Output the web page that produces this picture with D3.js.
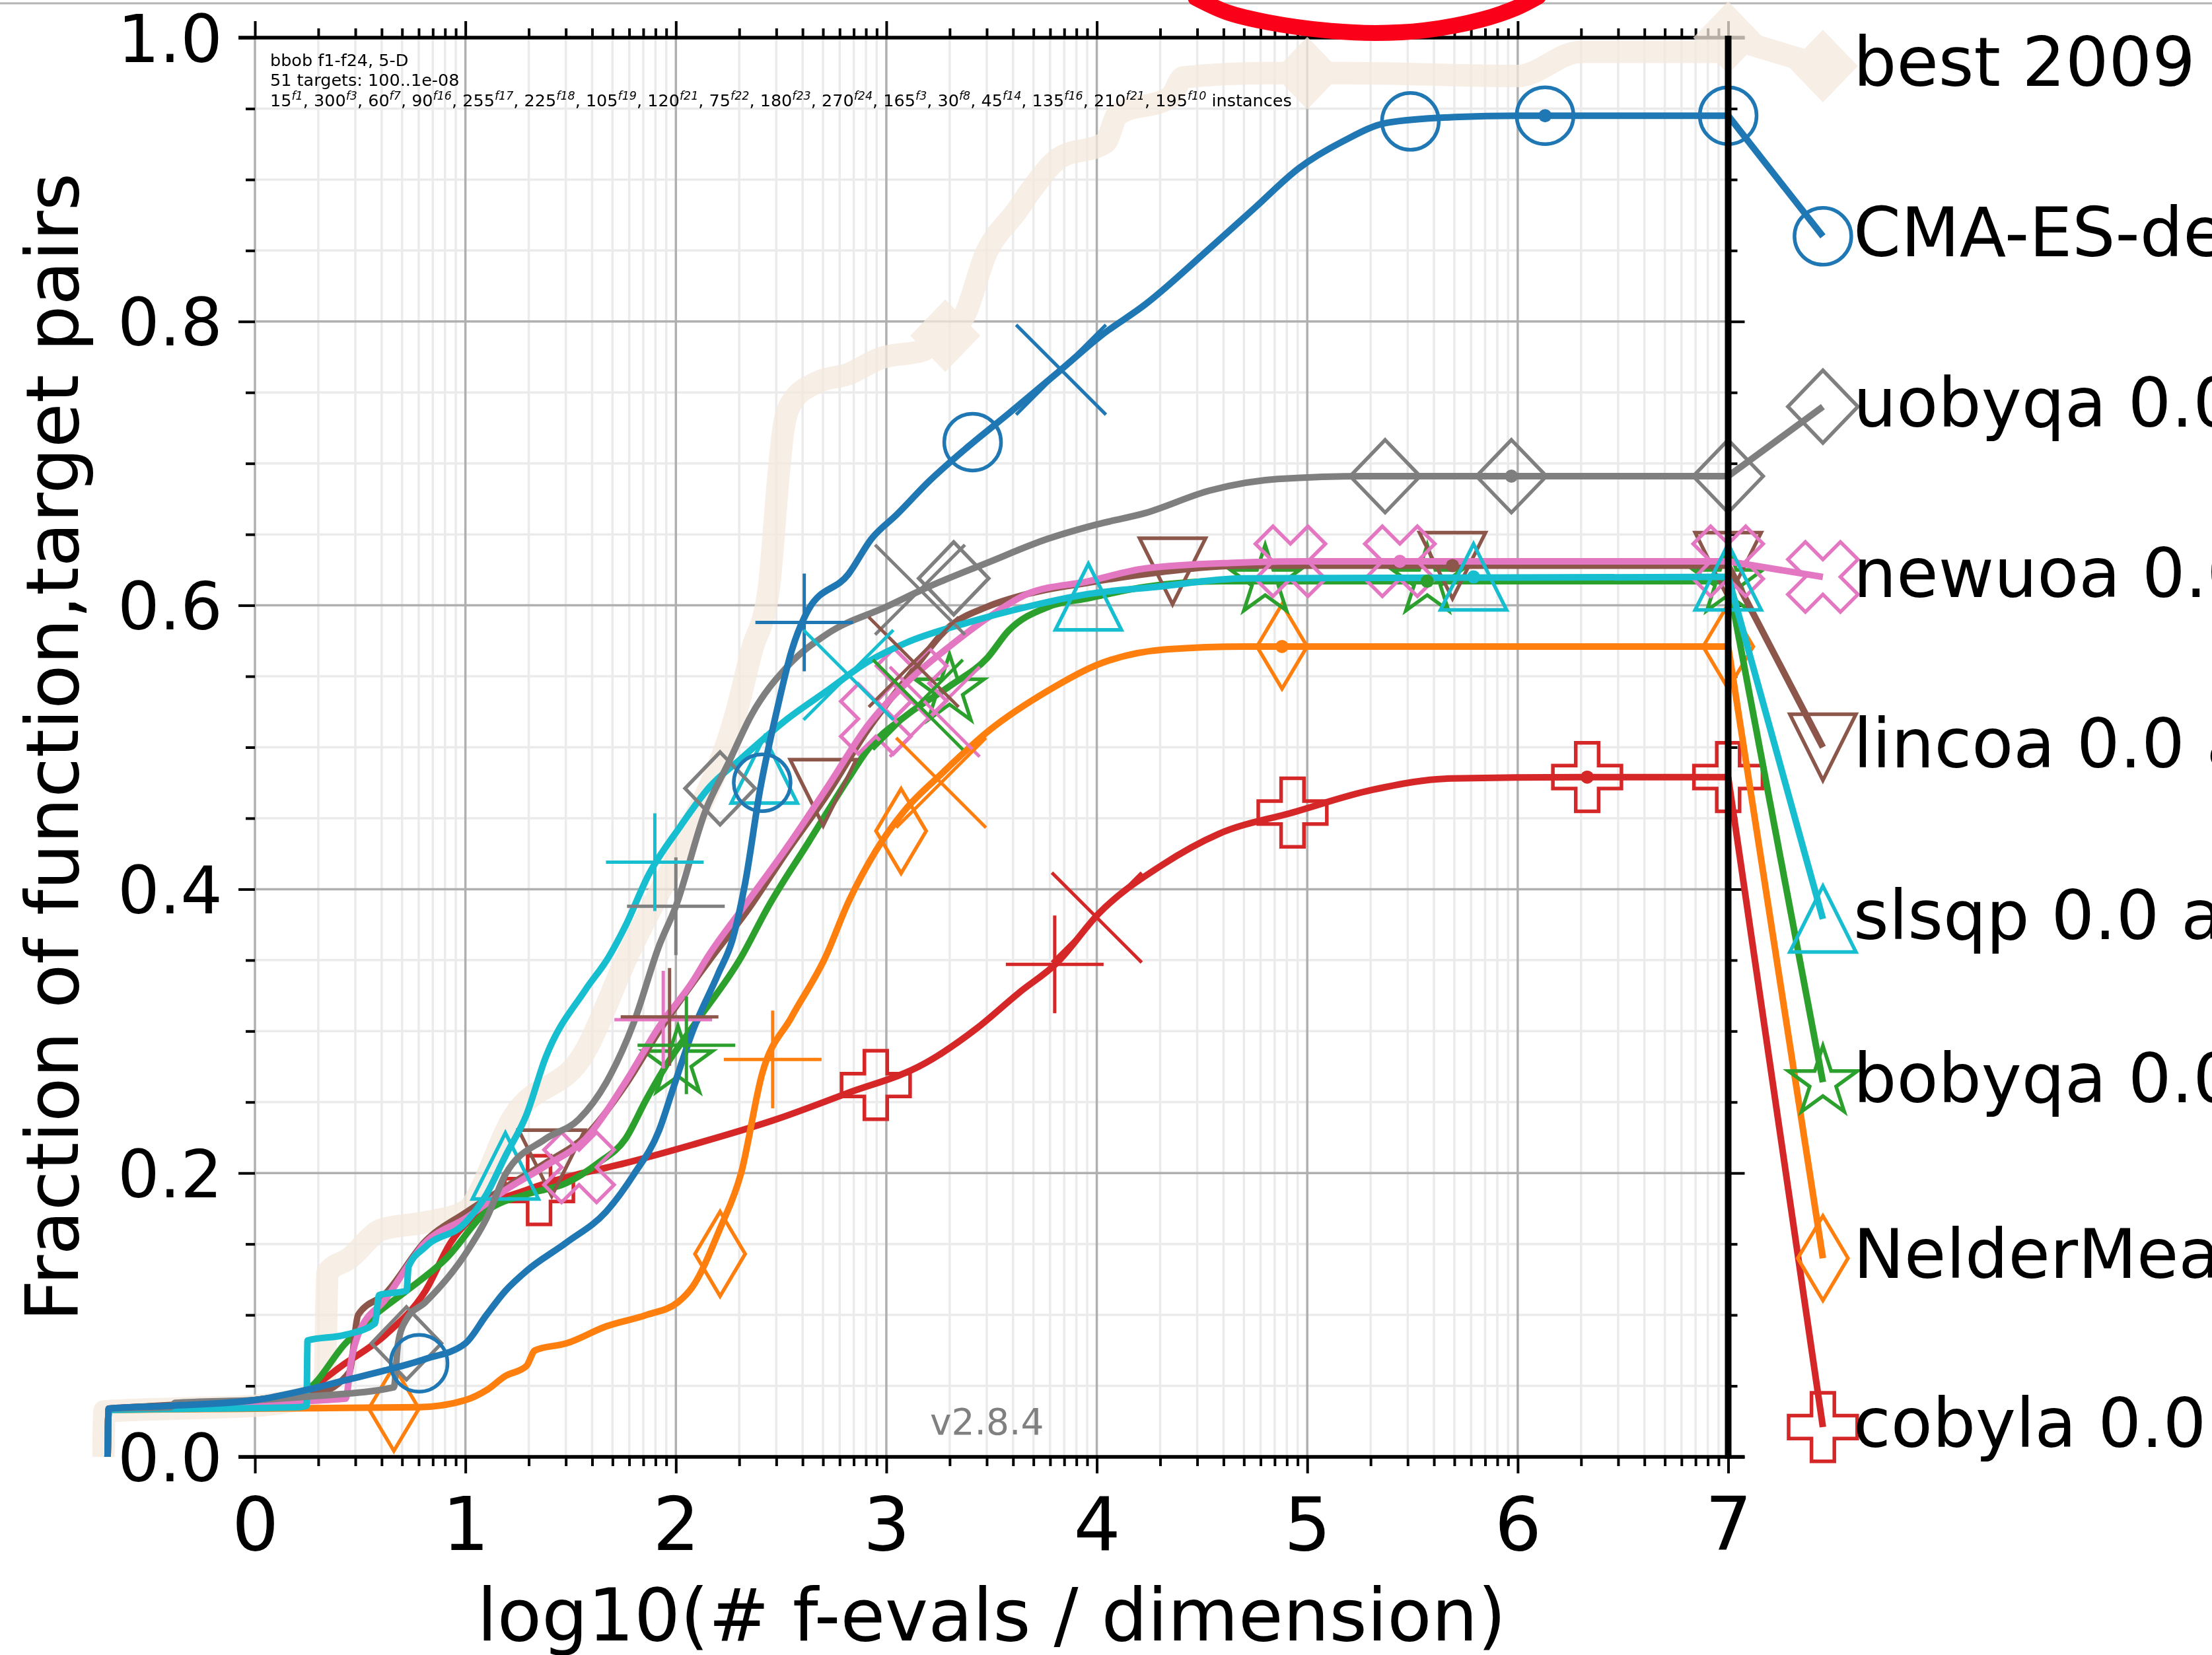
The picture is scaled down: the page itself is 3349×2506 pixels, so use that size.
<!DOCTYPE html>
<html>
<head>
<meta charset="utf-8">
<script src="https://cdn.jsdelivr.net/npm/d3@7"></script>
<style>
body { margin: 0; background: #fff; }
svg { display: block; }
</style>
</head>
<body>
<div id="chartContainer"></div>
<script>

// axis ticks
var xMajorTicks = [0, 1, 2, 3, 4, 5, 6, 7];
var xTickLabels = ["0", "1", "2", "3", "4", "5", "6", "7"];
var yMajorTicks = [0, 0.2, 0.4, 0.6, 0.8, 1.0];
var yTickLabels = ["0.0", "0.2", "0.4", "0.6", "0.8", "1.0"];

// legend, top to bottom
var algoNames = ["best 2009", "CMA-ES-default", "uobyqa 0.0 adjusted", "newuoa 0.0 adjusted",
  "lincoa 0.0 adjusted", "slsqp 0.0 adjusted", "bobyqa 0.0 adjusted",
  "NelderMead 0.0 adjusted", "cobyla 0.0 adjusted"];
var legendLevels = [0.98, 0.86, 0.74, 0.62, 0.50, 0.379, 0.264, 0.14, 0.021];

// ECDF curves: [log10(#f-evals/dim), fraction]
var best2009 = [[-0.72, 0], [-0.715, 0.032], [-0.38, 0.034], [0.0, 0.036], [0.24, 0.042], [0.33, 0.047],
  [0.345, 0.13], [0.45, 0.14], [0.6, 0.16], [0.8, 0.165], [1.0, 0.173], [1.23, 0.24], [1.57, 0.286],
  [1.77, 0.353], [2.06, 0.44], [2.29, 0.526], [2.36, 0.568], [2.44, 0.61], [2.49, 0.695], [2.51, 0.723],
  [2.55, 0.743], [2.67, 0.757], [2.82, 0.763], [2.97, 0.774], [3.18, 0.78], [3.24, 0.794], [3.35, 0.80],
  [3.48, 0.85], [3.62, 0.878], [3.69, 0.893], [3.82, 0.915], [4.04, 0.926], [4.10, 0.946], [4.35, 0.958],
  [4.41, 0.972], [4.79, 0.975], [5.2, 0.975], [6.0, 0.973], [6.3, 0.99], [6.97, 0.99], [7.0, 1.0]];
var cmaes = [[-0.70, 0], [-0.695, 0.034], [-0.4, 0.036], [0.0, 0.040], [0.24, 0.047], [0.43, 0.054],
  [0.62, 0.061], [0.81, 0.069], [1.0, 0.080], [1.10, 0.100], [1.19, 0.117], [1.29, 0.131], [1.48, 0.151],
  [1.67, 0.173], [1.80, 0.199], [1.92, 0.230], [1.99, 0.261], [2.08, 0.300], [2.20, 0.340], [2.27, 0.365],
  [2.33, 0.405], [2.40, 0.470], [2.48, 0.526], [2.55, 0.568], [2.63, 0.597], [2.82, 0.622], [2.93, 0.647],
  [3.05, 0.664], [3.20, 0.687], [3.39, 0.712], [3.58, 0.735], [3.83, 0.766], [4.02, 0.790], [4.23, 0.812],
  [4.54, 0.852], [4.75, 0.880], [4.96, 0.908], [5.17, 0.927], [5.38, 0.940], [5.70, 0.944], [6.0, 0.945], [7.0, 0.945]];
var uobyqa = [[-0.70, 0], [-0.695, 0.034], [-0.40, 0.035], [-0.38, 0.038], [0.0, 0.040], [0.3, 0.043],
  [0.66, 0.049], [0.68, 0.08], [0.72, 0.097], [0.81, 0.109], [1.0, 0.143], [1.10, 0.168], [1.19, 0.199],
  [1.38, 0.224], [1.54, 0.238], [1.67, 0.264], [1.80, 0.306], [1.92, 0.36], [2.0, 0.388], [2.14, 0.455],
  [2.25, 0.489], [2.36, 0.523], [2.53, 0.557], [2.72, 0.58], [3.0, 0.599], [3.2, 0.613], [3.48, 0.630],
  [3.77, 0.647], [4.0, 0.657], [4.23, 0.665], [4.54, 0.681], [4.86, 0.689], [5.28, 0.691], [7.0, 0.691]];
var newuoa = [[-0.70, 0], [-0.695, 0.033], [0.0, 0.038], [0.43, 0.041], [0.46, 0.07], [0.49, 0.086],
  [0.62, 0.111], [0.81, 0.151], [1.0, 0.168], [1.19, 0.188], [1.38, 0.205], [1.57, 0.224], [1.76, 0.264],
  [1.92, 0.303], [2.08, 0.335], [2.15, 0.352], [2.34, 0.391], [2.53, 0.430], [2.72, 0.472], [2.91, 0.515],
  [3.10, 0.546], [3.30, 0.571], [3.48, 0.591], [3.67, 0.608], [3.96, 0.617], [4.23, 0.626], [4.65, 0.630],
  [5.0, 0.631], [7.0, 0.631]];
var lincoa = [[-0.70, 0], [-0.695, 0.033], [0.0, 0.040], [0.3, 0.045], [0.45, 0.06], [0.49, 0.10],
  [0.62, 0.115], [0.81, 0.152], [1.0, 0.172], [1.19, 0.190], [1.38, 0.207], [1.57, 0.226], [1.76, 0.262],
  [1.92, 0.300], [2.17, 0.352], [2.34, 0.385], [2.53, 0.427], [2.72, 0.467], [2.91, 0.512], [3.10, 0.549],
  [3.30, 0.585], [3.48, 0.599], [3.67, 0.608], [3.96, 0.616], [4.28, 0.623], [4.7, 0.628], [7.0, 0.628]];
var slsqp = [[-0.70, 0], [-0.695, 0.033], [0.21, 0.035], [0.245, 0.036], [0.25, 0.082], [0.43, 0.086],
  [0.57, 0.094], [0.59, 0.114], [0.72, 0.117], [0.73, 0.134], [0.81, 0.148], [1.0, 0.165], [1.10, 0.185],
  [1.19, 0.212], [1.29, 0.241], [1.38, 0.281], [1.57, 0.329], [1.68, 0.352], [1.76, 0.374], [1.87, 0.410],
  [2.02, 0.444], [2.16, 0.472], [2.31, 0.492], [2.53, 0.520], [2.72, 0.540], [2.91, 0.560], [3.10, 0.574],
  [3.39, 0.588], [3.67, 0.599], [3.96, 0.608], [4.28, 0.613], [4.7, 0.619], [7.0, 0.620]];
var bobyqa = [[-0.70, 0], [-0.695, 0.033], [0.0, 0.040], [0.24, 0.047], [0.43, 0.08], [0.57, 0.100],
  [0.72, 0.117], [0.91, 0.140], [1.10, 0.173], [1.29, 0.185], [1.48, 0.193], [1.63, 0.207], [1.76, 0.224],
  [1.86, 0.252], [1.95, 0.275], [2.08, 0.303], [2.31, 0.352], [2.44, 0.388], [2.63, 0.433], [2.82, 0.478],
  [2.91, 0.498], [3.10, 0.523], [3.30, 0.543], [3.48, 0.563], [3.58, 0.582], [3.77, 0.599], [3.96, 0.605],
  [4.23, 0.613], [4.6, 0.617], [7.0, 0.617]];
var neldermead = [[-0.70, 0], [-0.695, 0.033], [0.0, 0.034], [0.78, 0.035], [1.0, 0.040], [1.10, 0.047],
  [1.19, 0.057], [1.29, 0.064], [1.33, 0.075], [1.48, 0.080], [1.67, 0.092], [1.86, 0.100], [2.01, 0.109],
  [2.08, 0.120], [2.21, 0.161], [2.31, 0.20], [2.41, 0.27], [2.55, 0.31], [2.71, 0.352], [2.82, 0.391],
  [2.95, 0.427], [3.09, 0.456], [3.26, 0.481], [3.49, 0.512], [3.77, 0.540], [4.0, 0.558], [4.33, 0.569],
  [4.7, 0.571], [7.0, 0.571]];
var cobyla = [[-0.70, 0], [-0.695, 0.034], [-0.4, 0.036], [0.0, 0.040], [0.24, 0.047], [0.43, 0.066],
  [0.62, 0.086], [0.81, 0.117], [0.93, 0.151], [1.10, 0.176], [1.29, 0.188], [1.48, 0.197], [1.76, 0.207],
  [2.08, 0.220], [2.48, 0.238], [2.81, 0.256], [3.18, 0.277], [3.43, 0.302], [3.63, 0.327], [3.81, 0.348],
  [4.01, 0.383], [4.31, 0.417], [4.58, 0.439], [4.93, 0.454], [5.31, 0.470], [5.68, 0.478], [6.3, 0.479],
  [7.0, 0.479]];

// marker positions along each curve
var best2009Marks = [[3.28, 0.79], [5.0, 0.975], [7.0, 1.0]];
var cmaesMarks = [[0.78, 0.066], [2.41, 0.475], [3.41, 0.715], [5.49, 0.941], [6.13, 0.945], [7.0, 0.945]];
var uobyqaMarks = [[0.72, 0.08], [2.21, 0.471], [3.32, 0.619], [5.37, 0.691], [5.97, 0.691], [7.0, 0.691]];
var newuoaMarks = [[1.54, 0.204], [2.95, 0.52], [3.12, 0.545], [4.92, 0.631], [5.44, 0.631], [7.0, 0.631]];
var lincoaMarks = [[1.41, 0.207], [2.70, 0.468], [4.36, 0.624], [5.69, 0.628], [7.0, 0.628]];
var slsqpMarks = [[1.19, 0.205], [2.42, 0.484], [3.96, 0.606], [5.79, 0.620], [7.0, 0.620]];
var bobyqaMarks = [[2.01, 0.278], [3.30, 0.540], [4.80, 0.617], [5.57, 0.617], [7.0, 0.617]];
var neldermeadMarks = [[0.66, 0.034], [2.21, 0.143], [3.07, 0.441], [4.88, 0.571], [7.0, 0.571]];
var cobylaMarks = [[1.35, 0.188], [2.95, 0.262], [4.93, 0.454], [6.33, 0.479], [7.0, 0.479]];

// small dots, "+" and "x" budget marks
var dotMarks = [[6.13, 0.945], [5.97, 0.691], [5.44, 0.631], [5.69, 0.628], [5.79, 0.620], [5.57, 0.617], [4.88, 0.571], [6.33, 0.479]];
var plusMarks = [[2.61, 0.588], [2.0, 0.388], [1.94, 0.308], [1.97, 0.31], [1.90, 0.419], [2.05, 0.29], [2.46, 0.28], [3.80, 0.347]];
var crossMarks = [[3.83, 0.766], [3.16, 0.611], [3.23, 0.525], [3.13, 0.56], [2.82, 0.551], [3.15, 0.53], [3.26, 0.475], [4.0, 0.380]];

// annotation text
var instCounts = [15, 300, 60, 90, 255, 225, 105, 120, 75, 180, 270, 165, 30, 45, 135, 210, 195];
var instFuncs = ["f1", "f3", "f7", "f16", "f17", "f18", "f19", "f21", "f22", "f23", "f24", "f3", "f8", "f14", "f16", "f21", "f10"];

// hand drawn red arc above the plot, in data coordinates
var redScribble = [[4.47, 1.028], [4.617, 1.018], [4.818, 1.0107], [5.088, 1.0051], [5.323, 1.0033],
  [5.555, 1.0051], [5.825, 1.0126], [5.991, 1.0209], [6.098, 1.029]];

var colors = ["#f5e8dc", "#1f77b4", "#7f7f7f", "#e377c2", "#8c564b", "#17becf", "#2ca02c", "#ff7f0e", "#d62728"];
var symbols = ["D", "o", "D", "X", "v", "^", "*", "d", "P"];
var curves = [best2009, cmaes, uobyqa, newuoa, lincoa, slsqp, bobyqa, neldermead, cobyla];
var marks = [best2009Marks, cmaesMarks, uobyqaMarks, newuoaMarks, lincoaMarks, slsqpMarks, bobyqaMarks, neldermeadMarks, cobylaMarks];
// color index of each dot / plus / cross
var dotColor = [1, 2, 3, 4, 5, 6, 7, 8];
var plusColor = [1, 2, 3, 4, 5, 6, 7, 8];
var crossColor = [1, 2, 3, 4, 5, 6, 7, 8];

var W = 3349, H = 2506;
var svg = d3.select("#chartContainer").append("svg")
  .attr("width", W).attr("height", H)
  .style("font-family", "'DejaVu Sans', sans-serif");

var x = d3.scaleLinear().domain([0, 7]).range([386, 2616.5]);
var y = d3.scaleLinear().domain([0, 1]).range([2206, 57]);

// grey rule at very top of the screenshot
svg.append("line").attr("x1", 0).attr("x2", W).attr("y1", 5).attr("y2", 5)
  .style("stroke", "#b4b4b4").style("stroke-width", 3);

var xMinor = [];
d3.range(0, 7).forEach(function (k) {
  d3.range(2, 10).forEach(function (m) { xMinor.push(k + Math.log10(m)); });
});
var yMinor = d3.range(1, 20).map(function (i) { return i * 0.05; })
  .filter(function (v) { return Math.abs(v * 5 - Math.round(v * 5)) > 1e-6; });

// grid
var grid = svg.append("g");
grid.selectAll("line.xmin").data(xMinor).enter().append("line")
  .attr("x1", function (d) { return x(d); }).attr("x2", function (d) { return x(d); })
  .attr("y1", y(1)).attr("y2", y(0))
  .style("stroke", "#ebebeb").style("stroke-width", 3.5);
grid.selectAll("line.ymin").data(yMinor).enter().append("line")
  .attr("x1", x(0)).attr("x2", x(7))
  .attr("y1", function (d) { return y(d); }).attr("y2", function (d) { return y(d); })
  .style("stroke", "#ebebeb").style("stroke-width", 3.5);
grid.selectAll("line.xmaj").data(xMajorTicks).enter().append("line")
  .attr("x1", function (d) { return x(d); }).attr("x2", function (d) { return x(d); })
  .attr("y1", y(1)).attr("y2", y(0))
  .style("stroke", "#b0b0b0").style("stroke-width", 3.5);
grid.selectAll("line.ymaj").data(yMajorTicks).enter().append("line")
  .attr("x1", x(0)).attr("x2", x(7))
  .attr("y1", function (d) { return y(d); }).attr("y2", function (d) { return y(d); })
  .style("stroke", "#b0b0b0").style("stroke-width", 3.5);

// ticks via d3 axes
function tickAxis(axis, tx, ty) {
  var g = svg.append("g").attr("transform", "translate(" + tx + "," + ty + ")").call(axis);
  g.select(".domain").remove();
  g.selectAll(".tick line").style("stroke", "#000").style("stroke-width", 4);
  g.attr("font-family", null).attr("font-size", null);
  return g;
}
tickAxis(d3.axisBottom(x).tickValues(xMinor).tickSize(14).tickFormat(""), 0, y(0));
tickAxis(d3.axisTop(x).tickValues(xMinor).tickSize(14).tickFormat(""), 0, y(1));
tickAxis(d3.axisTop(x).tickValues(xMajorTicks).tickSize(25).tickFormat(""), 0, y(1));
tickAxis(d3.axisLeft(y).tickValues(yMinor).tickSize(14).tickFormat(""), x(0), 0);
tickAxis(d3.axisRight(y).tickValues(yMinor).tickSize(14).tickFormat(""), x(7), 0);
tickAxis(d3.axisRight(y).tickValues(yMajorTicks).tickSize(25).tickFormat(""), x(7), 0);

var xAx = tickAxis(d3.axisBottom(x).tickValues(xMajorTicks).tickSize(25).tickPadding(36)
  .tickFormat(function (d, i) { return xTickLabels[i]; }), 0, y(0));
xAx.selectAll("text").style("font-size", "112px").style("fill", "#000");

var yAx = tickAxis(d3.axisLeft(y).tickValues(yMajorTicks).tickSize(25).tickPadding(24)
  .tickFormat(function (d, i) { return yTickLabels[i]; }), x(0), 0);
yAx.selectAll("text").style("font-size", "100px").style("fill", "#000").attr("dy", "0.36em");

// spines
svg.append("line").attr("x1", x(0) - 25).attr("x2", x(7) + 25).attr("y1", y(1)).attr("y2", y(1))
  .style("stroke", "#000").style("stroke-width", 5.5);
svg.append("line").attr("x1", x(0) - 25).attr("x2", x(7) + 25).attr("y1", y(0)).attr("y2", y(0))
  .style("stroke", "#000").style("stroke-width", 5.5);

// axis titles
svg.append("text")
  .attr("x", (x(0) + x(7)) / 2).attr("y", 2484)
  .attr("text-anchor", "middle")
  .style("font-size", "110px")
  .text("log10(# f-evals / dimension)");
svg.append("text")
  .attr("transform", "translate(118," + (y(0) + y(1)) / 2 + ") rotate(-90)")
  .attr("text-anchor", "middle")
  .style("font-size", "110px")
  .text("Fraction of function,target pairs");

// marker shapes
function markerPath(sym) {
  var pts;
  if (sym === "o") return d3.arc()({ innerRadius: 0, outerRadius: 43, startAngle: 0, endAngle: 2 * Math.PI });
  if (sym === "D") pts = [[0, -55], [53, 0], [0, 55], [-53, 0]];
  if (sym === "d") pts = [[0, -64], [38, 0], [0, 64], [-38, 0]];
  if (sym === "^") pts = [[0, -50], [50, 50], [-50, 50]];
  if (sym === "v") pts = [[0, 50], [50, -50], [-50, -50]];
  if (sym === "*") {
    pts = d3.range(10).map(function (i) {
      var r = i % 2 ? 55 * 0.381966 : 55, a = Math.PI * i / 5;
      return [r * Math.sin(a), -r * Math.cos(a)];
    });
  }
  if (sym === "X") pts = [[-1, -2], [0, -1], [1, -2], [2, -1], [1, 0], [2, 1], [1, 2], [0, 1], [-1, 2], [-2, 1], [-1, 0], [-2, -1]]
    .map(function (p) { return [p[0] * 26.5, p[1] * 26.5]; });
  if (sym === "P") pts = [[-1, -3], [1, -3], [1, -1], [3, -1], [3, 1], [1, 1], [1, 3], [-1, 3], [-1, 1], [-3, 1], [-3, -1], [-1, -1]]
    .map(function (p) { return [p[0] * 17.3, p[1] * 17.3]; });
  return "M" + pts.join("L") + "Z";
}

var line = d3.line().x(function (d) { return x(d[0]); }).y(function (d) { return y(d[1]); })
  .curve(d3.curveMonotoneX);
var straight = d3.line().x(function (d) { return x(d[0]); }).y(function (d) { return y(d[1]); });
var legendX = 7.45;

// best 2009 reference band, composited once with group opacity
var ref = svg.append("g").style("opacity", 0.75);
ref.append("path").attr("d", line(best2009))
  .style("fill", "none").style("stroke", colors[0])
  .style("stroke-width", 34).style("stroke-linejoin", "round");
ref.append("path").attr("d", straight([[7, 1.0], [legendX, legendLevels[0]]]))
  .style("fill", "none").style("stroke", colors[0]).style("stroke-width", 34);
ref.selectAll("path.refmark").data(best2009Marks.concat([[legendX, legendLevels[0]]])).enter().append("path")
  .attr("transform", function (d) { return "translate(" + x(d[0]) + "," + y(d[1]) + ")"; })
  .attr("d", markerPath("D"))
  .style("fill", colors[0]).style("stroke", "none");

// annotation top left, on top of the reference band
var note = svg.append("g").style("font-size", "25.5px");
note.append("text").attr("x", 409).attr("y", 100).text("bbob f1-f24, 5-D");
note.append("text").attr("x", 409).attr("y", 130).text("51 targets: 100..1e-08");
var inst = note.append("text").attr("x", 409).attr("y", 161);
instCounts.forEach(function (c, i) {
  inst.append("tspan").text(c);
  inst.append("tspan").attr("dy", -10).style("font-size", "17.5px").style("font-style", "italic").text(instFuncs[i]);
  inst.append("tspan").attr("dy", 10).text(i < instCounts.length - 1 ? ", " : " instances");
});

svg.append("text").attr("x", 1408).attr("y", 2172)
  .style("font-size", "55px").style("fill", "#808080").text("v2.8.4");

// algorithms, drawn bottom to top
var drawOrder = [8, 7, 6, 4, 3, 5, 2, 1];
drawOrder.forEach(function (k) {
  var c = colors[k], data = curves[k];
  svg.append("path").attr("d", line(data))
    .style("fill", "none").style("stroke", c).style("stroke-width", 10).style("stroke-linejoin", "round");
  svg.append("path").attr("d", straight([data[data.length - 1], [legendX, legendLevels[k]]]))
    .style("fill", "none").style("stroke", c).style("stroke-width", 10);
  svg.selectAll(null).data(marks[k].concat([[legendX, legendLevels[k]]])).enter().append("path")
    .attr("transform", function (d) { return "translate(" + x(d[0]) + "," + y(d[1]) + ")"; })
    .attr("d", markerPath(symbols[k]))
    .style("fill", "none").style("stroke", c).style("stroke-width", 5.5);
});

svg.selectAll("circle.dot").data(dotMarks).enter().append("circle")
  .attr("cx", function (d) { return x(d[0]); }).attr("cy", function (d) { return y(d[1]); })
  .attr("r", 10).style("fill", function (d, i) { return colors[dotColor[i]]; });

svg.selectAll("path.plus").data(plusMarks).enter().append("path")
  .attr("transform", function (d) { return "translate(" + x(d[0]) + "," + y(d[1]) + ")"; })
  .attr("d", "M-74,0H74M0,-74V74")
  .style("fill", "none").style("stroke", function (d, i) { return colors[plusColor[i]]; }).style("stroke-width", 5);

svg.selectAll("path.cross").data(crossMarks).enter().append("path")
  .attr("transform", function (d) { return "translate(" + x(d[0]) + "," + y(d[1]) + ")"; })
  .attr("d", "M-68,-68L68,68M-68,68L68,-68")
  .style("fill", "none").style("stroke", function (d, i) { return colors[crossColor[i]]; }).style("stroke-width", 5);

// max budget line at x = 7
svg.append("line").attr("x1", x(7)).attr("x2", x(7)).attr("y1", y(1) - 3).attr("y2", y(0) + 3)
  .style("stroke", "#000").style("stroke-width", 10);

// legend labels
svg.selectAll("text.legend").data(algoNames).enter().append("text")
  .attr("x", 2806)
  .attr("y", function (d, i) { return y(legendLevels[i]) + 30; })
  .style("font-size", "103px")
  .text(function (d) { return d; });

// red marker scribble
svg.append("path").attr("d", d3.line().x(function (d) { return x(d[0]); }).y(function (d) { return y(d[1]); })
  .curve(d3.curveCatmullRom)(redScribble))
  .style("fill", "none").style("stroke", "#fb0019").style("stroke-width", 24).style("stroke-linecap", "round");

</script>
</body>
</html>
